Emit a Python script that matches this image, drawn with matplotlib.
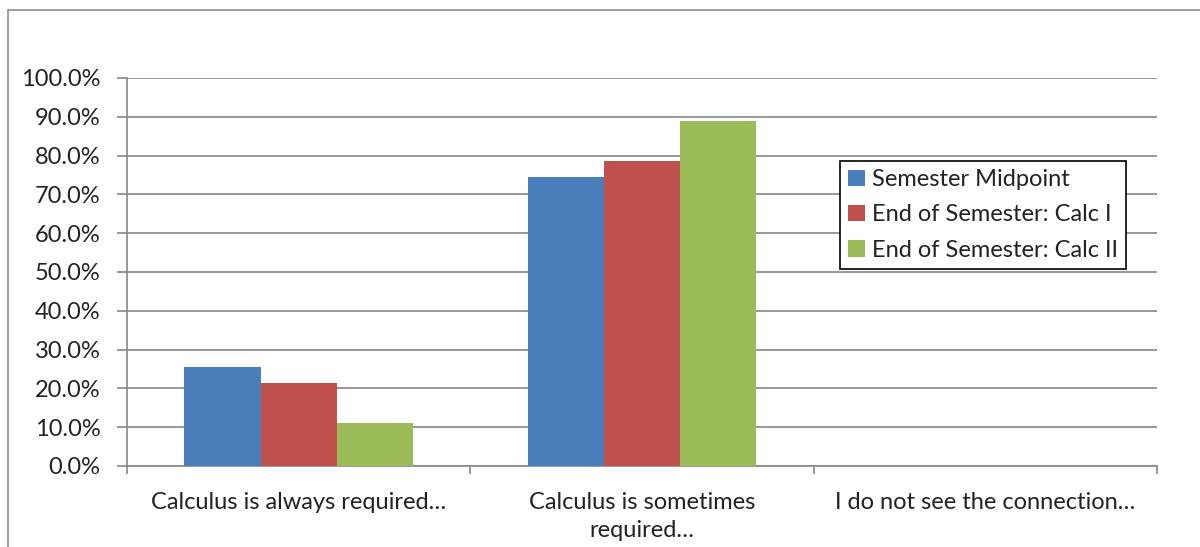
import numpy as np
import matplotlib.pyplot as plt
from matplotlib.patches import Rectangle
from matplotlib.ticker import PercentFormatter, FixedLocator

plt.rcParams['font.family'] = ['Lato', 'DejaVu Sans']

categories = ['Calculus is always required…', 'Calculus is sometimes\nrequired…', 'I do not see the connection…']
series = ['Semester Midpoint', 'End of Semester: Calc I', 'End of Semester: Calc II']
midpoint = [25.4, 74.6, 0.0]
calc1 = [21.4, 78.6, 0.0]
calc2 = [11.1, 88.9, 0.0]
colors = ['#4a7ebb', '#c0504d', '#9bbb59']

fs = 17

fig = plt.figure(figsize=(12, 5.47), dpi=100)
ax = fig.add_axes([127/1200, 1-466/547, (1157-127)/1200, (466-78)/547])

# outer chart frame (right/bottom edges run off the picture)
fig.patches.append(Rectangle((8/1200, -0.1), 1.2, 1 - 10/547 + 0.1, transform=fig.transFigure,
                             fill=False, edgecolor='#8c8c8c', linewidth=1.2))

x = np.arange(len(categories))
w = 1/4.5
for i, (vals, name) in enumerate(zip([midpoint, calc1, calc2], series)):
    ax.bar(x + (i - 1)*w, vals, width=w, color=colors[i], label=name, zorder=3)

ax.set_xlim(-0.5, 2.5)
ax.set_ylim(0, 100)
ax.yaxis.set_major_locator(FixedLocator(np.arange(0, 101, 10)))
ax.yaxis.set_major_formatter(PercentFormatter(decimals=1))
ax.grid(axis='y', color='#868686', linewidth=1.2, zorder=0)
ax.set_xticks(x)
ax.set_xticklabels(categories, linespacing=1.4)
ax.set_xticks([-0.5, 0.5, 1.5, 2.5], minor=True)
ax.tick_params(axis='x', which='major', length=0, pad=19, labelsize=fs, colors='#222222')
ax.tick_params(axis='x', which='minor', length=6, color='#868686', width=1.2)
ax.tick_params(axis='y', length=7, color='#868686', width=1.2, labelsize=fs, labelcolor='#222222', pad=12)
for s in ['top', 'right']:
    ax.spines[s].set_visible(False)
for s in ['left', 'bottom']:
    ax.spines[s].set_color('#868686')
    ax.spines[s].set_linewidth(1.2)

leg = ax.legend(loc='upper left', bbox_to_anchor=((840-127)/1030, (466-161)/388), fontsize=fs,
                frameon=True, fancybox=False, edgecolor='black', framealpha=1,
                handlelength=0.7, handleheight=0.7, handletextpad=0.3, borderpad=0.35, labelspacing=0.6,
                borderaxespad=0)
leg.get_frame().set_linewidth(1.2)
for t in leg.get_texts():
    t.set_color('#222222')

plt.savefig('out.png', dpi=100)
